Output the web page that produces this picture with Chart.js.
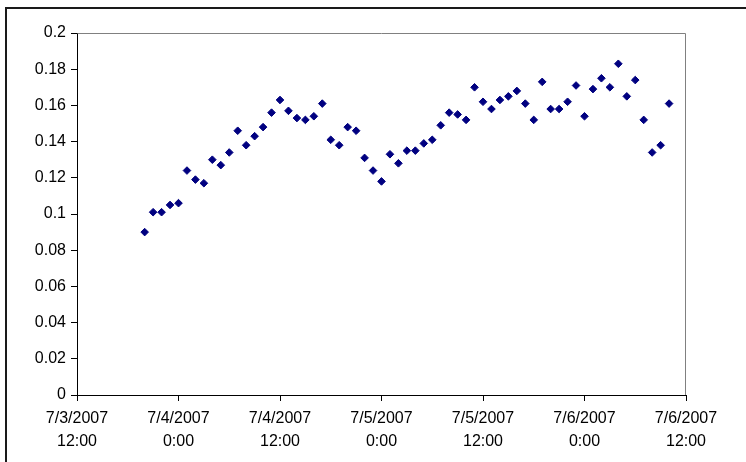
<!DOCTYPE html>
<html>
<head>
<meta charset="utf-8">
<script src="https://cdn.jsdelivr.net/npm/chart.js@4/dist/chart.umd.min.js"></script>
<style>
  html, body { margin: 0; padding: 0; background: #fff; }
  #wrap { width: 746px; height: 462px; }
</style>
</head>
<body>
<div id="wrap"><canvas id="c" width="746" height="462"></canvas></div>
<script>
// Hourly readings, starting 7/3/2007 20:00
const HOUR = 3600 * 1000;
const axisStart = Date.UTC(2007, 6, 3, 12);    // 7/3/2007 12:00
const firstReading = Date.UTC(2007, 6, 3, 20); // 7/3/2007 20:00

const readings = [
  0.090, 0.101, 0.101, 0.105, 0.106, 0.124, 0.119, 0.117, 0.130, 0.127,
  0.134, 0.146, 0.138, 0.143, 0.148, 0.156, 0.163, 0.157, 0.153, 0.152,
  0.154, 0.161, 0.141, 0.138, 0.148, 0.146, 0.131, 0.124, 0.118, 0.133,
  0.128, 0.135, 0.135, 0.139, 0.141, 0.149, 0.156, 0.155, 0.152, 0.170,
  0.162, 0.158, 0.163, 0.165, 0.168, 0.161, 0.152, 0.173, 0.158, 0.158,
  0.162, 0.171, 0.154, 0.169, 0.175, 0.170, 0.183, 0.165, 0.174, 0.152,
  0.134, 0.138, 0.161
];

const xTickLabels = [
  ['7/3/2007', '12:00'],
  ['7/4/2007', '0:00'],
  ['7/4/2007', '12:00'],
  ['7/5/2007', '0:00'],
  ['7/5/2007', '12:00'],
  ['7/6/2007', '0:00'],
  ['7/6/2007', '12:00']
];

const yTicks = { min: 0, max: 0.2, step: 0.02 };

// x is hours since 7/3/2007 12:00
const points = readings.map((v, i) => ({
  x: (firstReading + i * HOUR - axisStart) / HOUR,
  y: v
}));

const FONT = { family: '"Liberation Sans", Arial, sans-serif', size: 16 };

const frame = {
  id: 'frame',
  beforeDraw(chart) {
    const ctx = chart.ctx;
    ctx.save();
    ctx.fillStyle = '#fff';
    ctx.fillRect(0, 0, chart.width, chart.height);
    ctx.restore();
  },
  afterDraw(chart) {
    const { ctx, chartArea: a } = chart;
    ctx.save();
    // plot area outline (top and right edges)
    ctx.strokeStyle = '#808080';
    ctx.lineWidth = 1;
    ctx.beginPath();
    ctx.moveTo(Math.round(a.left) + 0.5, Math.round(a.top) + 0.5);
    ctx.lineTo(Math.round(a.right) - 0.5, Math.round(a.top) + 0.5);
    ctx.lineTo(Math.round(a.right) - 0.5, Math.round(a.bottom));
    ctx.stroke();
    // outer chart border
    ctx.strokeStyle = '#1a1a1a';
    ctx.lineWidth = 2;
    ctx.strokeRect(6, 8, 2000, 2000);
    ctx.restore();
  }
};

new Chart(document.getElementById('c'), {
  type: 'scatter',
  data: {
    datasets: [{
      data: points,
      pointStyle: 'rectRot',
      pointRadius: 3.8,
      pointHoverRadius: 3.8,
      backgroundColor: '#000080',
      borderColor: '#000080',
      borderWidth: 1
    }]
  },
  options: {
    responsive: false,
    maintainAspectRatio: false,
    animation: false,
    events: [],
    layout: { padding: { left: 0, top: 33, right: 60, bottom: 0 } },
    plugins: {
      legend: { display: false },
      tooltip: { enabled: false }
    },
    scales: {
      x: {
        type: 'linear',
        min: 0,
        max: 72,
        afterFit(scale) { scale.height = 67; },
        afterBuildTicks(scale) {
          scale.ticks = xTickLabels.map((_, i) => ({ value: i * 12 }));
        },
        ticks: {
          color: '#000',
          font: Object.assign({ lineHeight: 1.38 }, FONT),
          padding: 7,
          maxRotation: 0,
          autoSkip: false,
          callback: (v) => xTickLabels[Math.round(v / 12)]
        },
        grid: {
          display: true,
          drawOnChartArea: false,
          drawTicks: true,
          tickLength: 6,
          color: '#000',
          lineWidth: 1
        },
        border: { display: true, color: '#000', width: 1 }
      },
      y: {
        type: 'linear',
        min: yTicks.min,
        max: yTicks.max,
        afterFit(scale) { scale.width = 77; },
        ticks: {
          stepSize: yTicks.step,
          color: '#000',
          font: FONT,
          padding: 5,
          callback: (v) => String(Math.round(v * 100) / 100)
        },
        grid: {
          display: true,
          drawOnChartArea: false,
          drawTicks: true,
          tickLength: 6,
          color: '#000',
          lineWidth: 1
        },
        border: { display: true, color: '#000', width: 1 }
      }
    }
  },
  plugins: [frame]
});
</script>
</body>
</html>
